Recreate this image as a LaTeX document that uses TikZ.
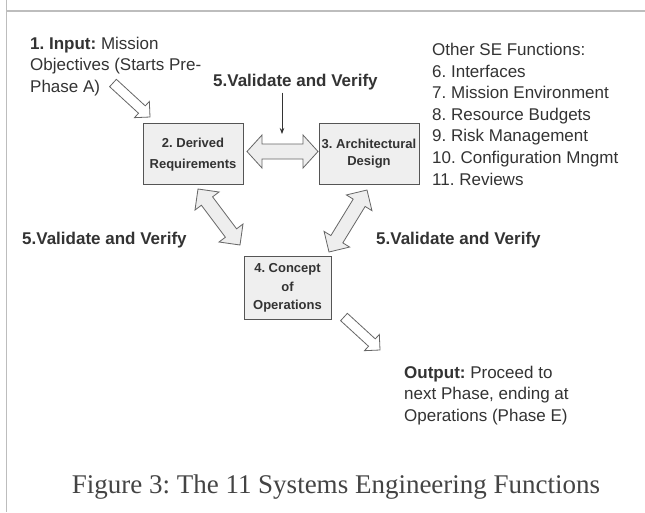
\documentclass[tikz,border=0pt]{standalone}
\usepackage{fontspec}
\setmainfont{Liberation Sans}
\newfontfamily\captionserif{Liberation Serif}
\usetikzlibrary{calc,arrows.meta}
\frenchspacing

\definecolor{ink}{HTML}{333333}
\definecolor{capink}{HTML}{444444}
\definecolor{boxline}{HTML}{555555}
\definecolor{boxfill}{HTML}{EFEFEF}
\definecolor{arrline}{HTML}{666666}
\definecolor{arrfill}{HTML}{EEEEEE}
\definecolor{framegray}{HTML}{BDBDBD}

% hollow two-headed block arrow between two tip coordinates
% #1,#2 tips, #3 shaft half-width, #4 head half-width, #5 head length
\newcommand\blockdouble[5]{%
  \path ($(#1)!#5!(#2)$) coordinate (da) ($(#2)!#5!(#1)$) coordinate (db);
  \draw[blockarrow] (#1) -- ($(da)!#4!90:(#1)$) -- ($(da)!#3!90:(#1)$)
    -- ($(db)!#3!-90:(#2)$) -- ($(db)!#4!-90:(#2)$) -- (#2)
    -- ($(db)!#4!90:(#2)$) -- ($(db)!#3!90:(#2)$)
    -- ($(da)!#3!-90:(#1)$) -- ($(da)!#4!-90:(#1)$) -- cycle;
}
% hollow one-headed block arrow: #1 tail centre, #2 tip
\newcommand\blocksingle[5]{%
  \path ($(#2)!#5!(#1)$) coordinate (sa);
  \draw[blockarrow, fill=white] (#2) -- ($(sa)!#4!90:(#2)$) -- ($(sa)!#3!90:(#2)$)
    -- ($(#1)!#3!90:(#2)$) -- ($(#1)!#3!-90:(#2)$)
    -- ($(sa)!#3!-90:(#2)$) -- ($(sa)!#4!-90:(#2)$) -- cycle;
}

\begin{document}
\begin{tikzpicture}[x=1pt,y=-1pt,
  txt/.style={inner sep=0pt, text=ink, font=\fontsize{17}{21.6}\selectfont, align=left},
  vv/.style={inner sep=0pt, text=ink, font=\bfseries\fontsize{17}{20}\selectfont},
  fnbox/.style={draw=boxline, fill=boxfill, line width=0.8pt, inner sep=0pt,
    align=center, text=ink},
  blockarrow/.style={draw=arrline, fill=arrfill, line width=0.8pt, line join=miter},
]
\useasboundingbox (0,0) rectangle (645,512);
\fill[white] (0,0) rectangle (645,512);

% page frame
\draw[framegray, line width=1.4pt] (6.5,0) coordinate (fl1) -- (6.5,512) coordinate (fl2);
\draw[framegray, line width=1.2pt] (6.5,11) coordinate (ft1) -- (645,11) coordinate (ft2);

% input and output notes
\node[txt, anchor=north west] (input) at (30,36.8)
  {\textbf{1. Input:} Mission\\Objectives (Starts Pre-\\Phase A)};
\node[txt, anchor=north west] (output) at (404,365.8)
  {\textbf{Output:} Proceed to\\next Phase, ending at\\Operations (Phase E)};

% list of the remaining functions
\node[txt, anchor=north west] (others) at (432,43)
  {Other SE Functions:\\6. Interfaces\\7. Mission Environment\\8. Resource Budgets\\
   9. Risk Management\\10. Configuration Mngmt\\11. Reviews};

% the three core function boxes
\node[fnbox, minimum width=100pt, minimum height=61pt,
  font=\bfseries\fontsize{13}{21}\selectfont] (req) at (193,153.5)
  {\rule{0pt}{12pt}2. Derived\\Requirements};
\node[fnbox, minimum width=100pt, minimum height=61pt,
  font=\bfseries\fontsize{13}{17}\selectfont] (arch) at (369,153.5)
  {3. Architectural\\Design};
\node[fnbox, minimum width=87pt, minimum height=63pt,
  font=\bfseries\fontsize{13}{18.5}\selectfont] (conops) at (287.5,288)
  {4. Concept\\of\\Operations};

% validate and verify labels
\node[vv, anchor=base west] (vvtop) at (213,86) {5.Validate and Verify};
\node[vv, anchor=base west] (vvleft) at (22,244) {5.Validate and Verify};
\node[vv, anchor=base west] (vvright) at (376,244) {5.Validate and Verify};

% arrow end points
\coordinate (inTail) at (113,83);
\coordinate (inTip) at (150,117);
\coordinate (outTail) at (344,317);
\coordinate (outTip) at (380,350);
\coordinate (raL) at (247,151.5);
\coordinate (raR) at (318,151.5);
\coordinate (rcA) at (198,189);
\coordinate (rcB) at (240,245);
\coordinate (acA) at (367,190);
\coordinate (acB) at (329,252);

\blocksingle{inTail}{inTip}{5pt}{11pt}{11pt}
\blocksingle{outTail}{outTip}{5pt}{11pt}{11pt}
\blockdouble{raL}{raR}{7.5pt}{16.5pt}{15pt}
\blockdouble{rcA}{rcB}{7pt}{15pt}{15pt}
\blockdouble{acA}{acB}{7pt}{15pt}{15pt}

% pointer from the top label to the horizontal arrow
\draw[ink, line width=0.8pt, -{Stealth[length=6pt,width=4.5pt]}]
  (vvtop.south -| 282,0) ++(0,3) -- (282,134);

% caption
\node[inner sep=0pt, text=capink, font=\captionserif\fontsize{27}{30}\selectfont,
  anchor=base] (caption) at (336,493) {Figure 3: The 11 Systems Engineering Functions};
\end{tikzpicture}
\end{document}
